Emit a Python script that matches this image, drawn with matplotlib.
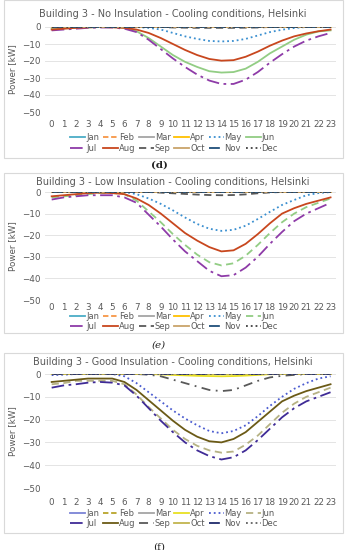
import matplotlib
matplotlib.use('Agg')
import matplotlib.pyplot as plt
from matplotlib.patches import Rectangle

hours = list(range(24))
months = ['Jan', 'Feb', 'Mar', 'Apr', 'May', 'Jun', 'Jul', 'Aug', 'Sep', 'Oct', 'Nov', 'Dec']
zero = [0] * 24

# (d) No insulation
d_may = [0, 0, 0, 0, 0, 0, 0, 0, -0.5, -1.5, -3.5, -5.5, -7, -8.2, -8.5, -8.2, -7, -5, -3, -1.6, -0.6, 0, 0, 0]
d_jun = [-1, -0.8, -0.5, -0.3, 0, 0, -0.5, -2.5, -6.5, -11.5, -16.5, -20.5, -23.5, -26, -26.8, -26.5, -24.5, -20.5, -15.5, -11.5, -7.5, -4.5, -2.6, -2]
d_jul = [-2, -1.5, -1, -0.5, -0.3, -0.3, -1, -3, -7.5, -13, -18.5, -23.5, -28, -31.5, -33.5, -33.5, -31, -26.5, -21, -16, -11.5, -8, -5.5, -3.5]
d_aug = [-1.5, -1, -0.5, -0.2, 0, -0.2, -0.5, -1.5, -3.5, -6.5, -10, -13.5, -16.5, -18.8, -19.8, -19.5, -17.5, -14.5, -11, -8, -5.5, -3.8, -2.5, -1.5]
d_sep = [0, 0, 0, 0, 0, 0, 0, 0, 0, 0, -0.3, -0.4, -0.5, -0.5, -0.5, -0.5, -0.4, -0.3, 0, 0, 0, 0, 0, 0]

# (e) Low insulation
e_may = [0, 0, 0, 0, 0, 0, 0, -1, -3, -5.5, -8.5, -11.8, -14.8, -17, -18, -17.5, -15.6, -12.5, -9.2, -6, -3.7, -1.5, -0.5, 0]
e_jun = [-2.5, -2, -1.5, -1, -0.5, -0.5, -1, -4, -9, -14, -19.5, -24.5, -29, -32.5, -34, -33, -29.5, -24.5, -19, -14, -10, -7, -5, -3]
e_jul = [-3.5, -2.5, -2, -1.5, -1.5, -1.5, -2.5, -5, -10.5, -16, -22, -27.5, -32, -36.5, -39, -38.5, -35, -30, -24, -18.5, -13.5, -10, -7.5, -5]
e_aug = [-2, -1.5, -1, -0.5, -0.3, -0.5, -1, -3, -6, -10, -14.5, -19, -22.5, -25.5, -27.5, -27, -24, -19.5, -14.5, -10, -7.5, -5.5, -4, -2.5]
e_sep = [0, 0, 0, 0, 0, 0, 0, 0, 0, -0.3, -0.6, -0.9, -1.2, -1.4, -1.5, -1.4, -1.1, -0.6, -0.2, 0, 0, 0, 0, 0]

# (f) Good insulation
f_apr = [0, 0, 0, 0, 0, 0, 0, 0, 0, -0.2, -0.4, -0.6, -0.8, -0.9, -1, -0.9, -0.7, -0.4, -0.1, 0, 0, 0, 0, 0]
f_may = [-0.5, -0.3, 0, 0, 0, 0, -1, -4, -8, -12, -16, -19.5, -22.5, -25, -26, -25, -22.5, -18.5, -14, -10, -6.5, -4, -2, -1]
f_jun = [-4.5, -4, -3, -3, -3, -3, -4.5, -9, -14.5, -19.5, -24.5, -28.5, -31.5, -33.5, -34.5, -34, -31, -27, -22, -17, -13, -10, -8, -6]
f_jul = [-6, -5, -4.5, -3.8, -3.5, -3.8, -5, -9.5, -15, -20.5, -25.5, -30, -33.5, -36, -37.5, -36.5, -33.5, -29, -24, -19, -15, -12, -10, -8]
f_aug = [-3.5, -3, -2.5, -2, -2, -2, -3.5, -7, -11.5, -16, -20.5, -24.5, -27.5, -29.5, -30, -28.5, -25.5, -21, -16.5, -12, -9.5, -7.5, -6, -4.5]
f_sep = [0, 0, 0, 0, 0, 0, 0, 0, -0.3, -1, -2.5, -4, -5.5, -7, -7.5, -7, -5, -3, -1.5, -0.8, -0.4, 0, 0, 0]

ticks_y = [0, -10, -20, -30, -40, -50]

dash_dot = (0, (7, 2.5, 1.5, 2.5))
styles_de = {
    'Jan': ('#4BACC6', '-'), 'Feb': ('#F79646', (0, (3, 1.5))), 'Mar': ('#A5A5A5', '-'),
    'Apr': ('#FFC000', '-'), 'May': ('#3A8FD0', ':'), 'Jun': ('#92CD84', '-'),
    'Jul': ('#8E3BA8', dash_dot), 'Aug': ('#C8471E', '-'), 'Sep': ('#595959', (0, (4, 2.5))),
    'Oct': ('#C9A46A', '-'), 'Nov': ('#1F4E79', (0, (6, 4))), 'Dec': ('#404040', ':'),
}
styles_f = {
    'Jan': ('#7B83D6', '-'), 'Feb': ('#B9A52B', (0, (3, 1.5))), 'Mar': ('#A5A5A5', '-'),
    'Apr': ('#E8E023', '-'), 'May': ('#4A5BD0', ':'), 'Jun': ('#B6B284', (0, (4, 2.5))),
    'Jul': ('#3F2B96', dash_dot), 'Aug': ('#6B5A16', '-'), 'Sep': ('#595959', (0, (5, 3, 1, 3))),
    'Oct': ('#C2B44E', '-'), 'Nov': ('#1F2A6B', (0, (6, 4))), 'Dec': ('#606060', ':'),
}
styles_e = dict(styles_de)
styles_e['Jun'] = ('#92CD84', (0, (4, 2.5)))

panels = [
    {'title': 'Building 3 - No Insulation - Cooling conditions, Helsinki',
     'data': {'May': d_may, 'Jun': d_jun, 'Jul': d_jul, 'Aug': d_aug, 'Sep': d_sep},
     'styles': styles_de, 'box': (0, 158), 'title_y': 14, 'plot': (27, 112),
     'ticks_y': 122, 'leg_y': 143, 'cap': '(d)', 'cap_y': 165, 'cap_style': 'normal'},
    {'title': 'Building 3 - Low Insulation - Cooling conditions, Helsinki',
     'data': {'May': e_may, 'Jun': e_jun, 'Jul': e_jul, 'Aug': e_aug, 'Sep': e_sep},
     'styles': styles_e, 'box': (173, 333), 'title_y': 182, 'plot': (192, 300),
     'ticks_y': 306, 'leg_y': 321.5, 'cap': '(e)', 'cap_y': 345, 'cap_style': 'italic'},
    {'title': 'Building 3 - Good Insulation - Cooling conditions, Helsinki',
     'data': {'Apr': f_apr, 'May': f_may, 'Jun': f_jun, 'Jul': f_jul, 'Aug': f_aug, 'Sep': f_sep},
     'styles': styles_f, 'box': (353, 533), 'title_y': 362, 'plot': (374, 488),
     'ticks_y': 499, 'leg_y': 518.5, 'cap': '(f)', 'cap_y': 547, 'cap_style': 'normal'},
]

# legend fills column by column, so interleave the two rows
order = [i + r * 6 for i in range(6) for r in range(2)]

W, H = 347, 550
fig = plt.figure(figsize=(W / 100, H / 100), dpi=100)

for p in panels:
    b0, b1 = p['box']
    fig.patches.append(Rectangle((4 / W, 1 - b1 / H), 339 / W, (b1 - b0) / H,
                                 transform=fig.transFigure, fill=False,
                                 edgecolor='#D9D9D9', linewidth=0.8))
    fig.text(173 / W, 1 - p['title_y'] / H, p['title'], ha='center', va='center',
             fontsize=7, color='#595959')
    top, bot = p['plot']
    ax = fig.add_axes([45 / W, 1 - bot / H, 291 / W, (bot - top) / H])
    handles = []
    for m in months:
        color, ls = p['styles'][m]
        vals = p['data'].get(m, zero)
        ln, = ax.plot(hours, vals, color=color, linestyle=ls, linewidth=1.3, label=m)
        handles.append(ln)
    ax.set_xlim(-0.55, 23.45)
    ax.set_ylim(-50, 0)
    ax.set_yticks(ticks_y)
    ax.set_xticks(hours)
    ax.grid(axis='y', color='#E4E4E4', linewidth=0.7)
    ax.set_axisbelow(True)
    for s in ax.spines.values():
        s.set_visible(False)
    ax.tick_params(length=0, labelsize=6.3, labelcolor='#595959', pad=3)
    ax.tick_params(axis='x', pad=(p['ticks_y'] - bot) - 4)
    ax.set_ylabel('Power [kW]', fontsize=6.3, color='#595959', labelpad=4)
    leg = fig.legend([handles[i] for i in order], [months[i] for i in order],
                     ncol=6, loc='center',
                     bbox_to_anchor=(174 / W, 1 - p['leg_y'] / H), frameon=False,
                     fontsize=6, handlelength=1.8, handletextpad=0.1,
                     columnspacing=0.45, labelspacing=0.2, borderpad=0)
    for t in leg.get_texts():
        t.set_color('#595959')
    fig.text(159 / W, 1 - p['cap_y'] / H, p['cap'], ha='center', va='center',
             fontsize=7.5, family='DejaVu Serif', style=p['cap_style'],
             weight='bold' if p['cap'] == '(d)' else 'normal', color='#222222')

fig.savefig('out.png', dpi=100)
